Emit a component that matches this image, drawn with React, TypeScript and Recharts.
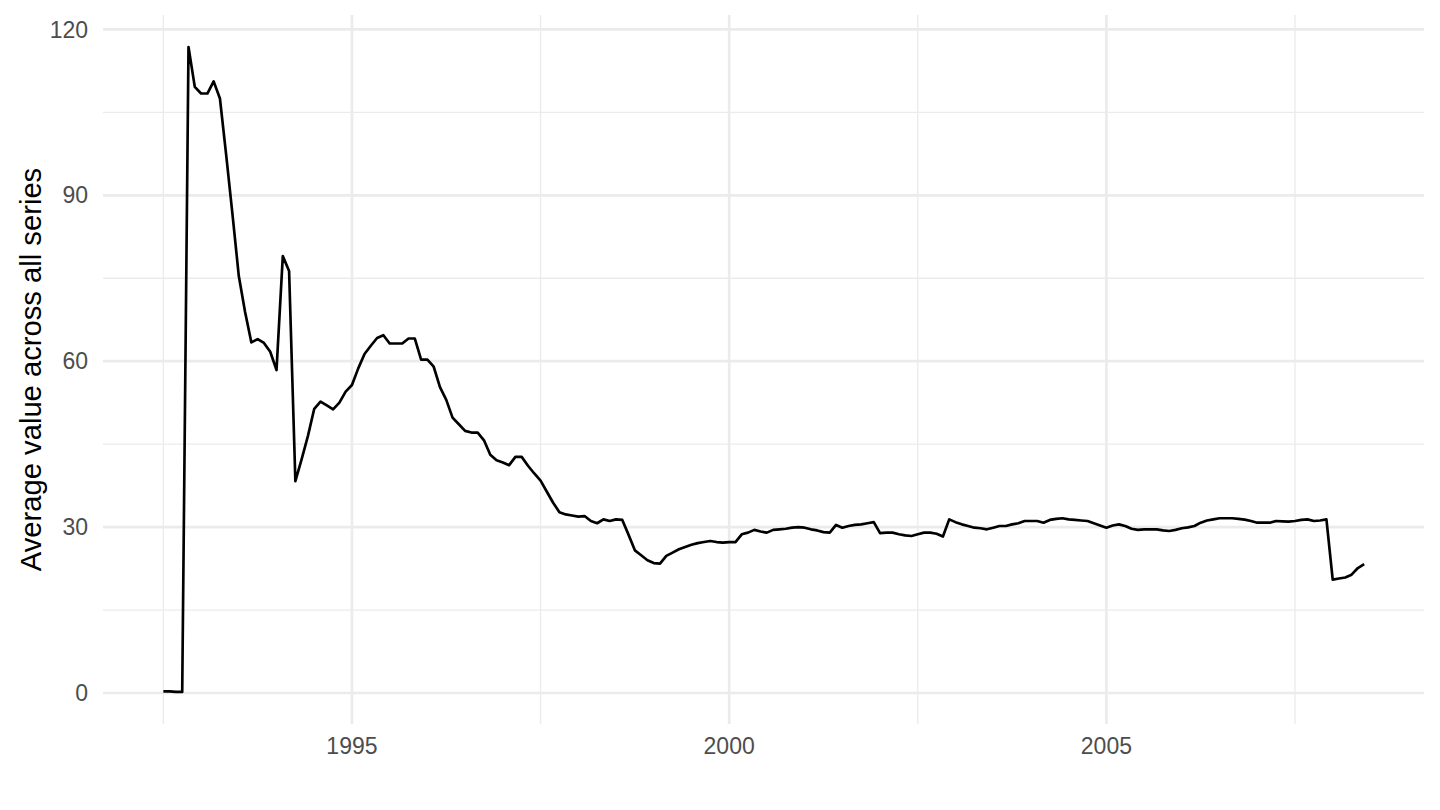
import React from "react";
import { CartesianGrid, Line, LineChart, XAxis, YAxis } from "recharts";

// monthly series, first point July 1992
const startYear = 1992;
const startMonth = 7;

const values = [
  // 1992 (Jul-Dec)
  0.3, 0.3, 0.2, 0.2, 116.8, 109.6,
  // 1993
  108.4, 108.4, 110.6, 107.5, 97.2, 86.5, 75.4, 68.9, 63.4, 64.0, 63.3, 61.7,
  // 1994
  58.4, 79.0, 76.3, 38.3, 42.3, 46.5, 51.4, 52.7, 52.0, 51.3, 52.5, 54.5,
  // 1995
  55.7, 58.7, 61.3, 62.8, 64.2, 64.7, 63.2, 63.2, 63.2, 64.1, 64.1, 60.3,
  // 1996
  60.3, 59.0, 55.3, 53.0, 49.8, 48.6, 47.4, 47.1, 47.1, 45.7, 43.1, 42.1,
  // 1997
  41.7, 41.2, 42.7, 42.7, 41.1, 39.7, 38.4, 36.4, 34.4, 32.7, 32.3, 32.1,
  // 1998
  31.9, 32.0, 31.1, 30.7, 31.4, 31.1, 31.4, 31.3, 28.6, 25.8, 24.9, 24.0,
  // 1999
  23.5, 23.4, 24.8, 25.4, 26.0, 26.4, 26.8, 27.1, 27.3, 27.5, 27.3, 27.2,
  // 2000
  27.3, 27.3, 28.7, 29.0, 29.5, 29.2, 29.0, 29.5, 29.6, 29.7, 29.9, 30.0,
  // 2001
  29.9, 29.6, 29.4, 29.1, 29.0, 30.4, 29.9, 30.2, 30.4, 30.5, 30.7, 30.9,
  // 2002
  28.9, 29.0, 29.0, 28.7, 28.5, 28.4, 28.7, 29.0, 29.0, 28.8, 28.3, 31.4,
  // 2003
  30.9, 30.5, 30.2, 29.9, 29.8, 29.6, 29.9, 30.2, 30.2, 30.5, 30.7, 31.1,
  // 2004
  31.1, 31.1, 30.8, 31.3, 31.5, 31.6, 31.4, 31.3, 31.2, 31.1, 30.7, 30.3,
  // 2005
  29.9, 30.3, 30.5, 30.2, 29.7, 29.5, 29.6, 29.6, 29.6, 29.4, 29.3, 29.5,
  // 2006
  29.8, 29.95, 30.2, 30.8, 31.2, 31.4, 31.6, 31.6, 31.6, 31.5, 31.35, 31.1,
  // 2007
  30.8, 30.8, 30.8, 31.1, 31.05, 31.0, 31.1, 31.3, 31.4, 31.1, 31.2, 31.4,
  // 2008 (Jan-Jun)
  20.5, 20.7, 20.9, 21.4, 22.6, 23.3,
];

const xTicks = [1995, 2000, 2005];
const xMinor = [1992.5, 1997.5, 2002.5, 2007.5];
const yTicks = [0, 30, 60, 90, 120];
const yMinor = [15, 45, 75, 105];

const data = values.map((v, i) => ({
  date: startYear + (startMonth - 1 + i) / 12,
  value: v,
}));

const FONT = "'Liberation Sans', Arial, Helvetica, sans-serif";
const GRID = "#EBEBEB";

export default function App() {
  return (
    <div style={{ position: "absolute", left: 0, top: 0, background: "#fff" }}>
      <LineChart
        width={1440}
        height={810}
        data={data}
        margin={{ top: 15, right: 16, left: 0, bottom: 0 }}
      >
        <CartesianGrid
          stroke={GRID}
          strokeWidth={1.33}
          horizontalValues={yMinor}
          verticalValues={xMinor}
        />
        <CartesianGrid
          stroke={GRID}
          strokeWidth={2.67}
          horizontalValues={yTicks}
          verticalValues={xTicks}
        />
        <XAxis
          dataKey="date"
          type="number"
          domain={[1991.7, 2009.21]}
          allowDataOverflow
          ticks={xTicks}
          axisLine={false}
          tickLine={false}
          tickSize={0}
          tickMargin={14}
          height={86}
          tick={{ fill: "#4D4D4D", fontSize: 23, fontFamily: FONT }}
        />
        <YAxis
          type="number"
          domain={[-5.6, 122.6]}
          allowDataOverflow
          ticks={yTicks}
          axisLine={false}
          tickLine={false}
          tickSize={0}
          tickMargin={15}
          width={103}
          tick={{ fill: "#4D4D4D", fontSize: 23, fontFamily: FONT }}
          label={() => (
            <text
              x={41}
              y={369.5}
              transform="rotate(-90, 41, 369.5)"
              textAnchor="middle"
              fontSize={29.2}
              fontFamily={FONT}
              fill="#000"
            >
              Average value across all series
            </text>
          )}
        />
        <Line
          dataKey="value"
          type="linear"
          stroke="#000"
          strokeWidth={2.67}
          strokeLinejoin="round"
          dot={false}
          activeDot={false}
          isAnimationActive={false}
        />
      </LineChart>
    </div>
  );
}
